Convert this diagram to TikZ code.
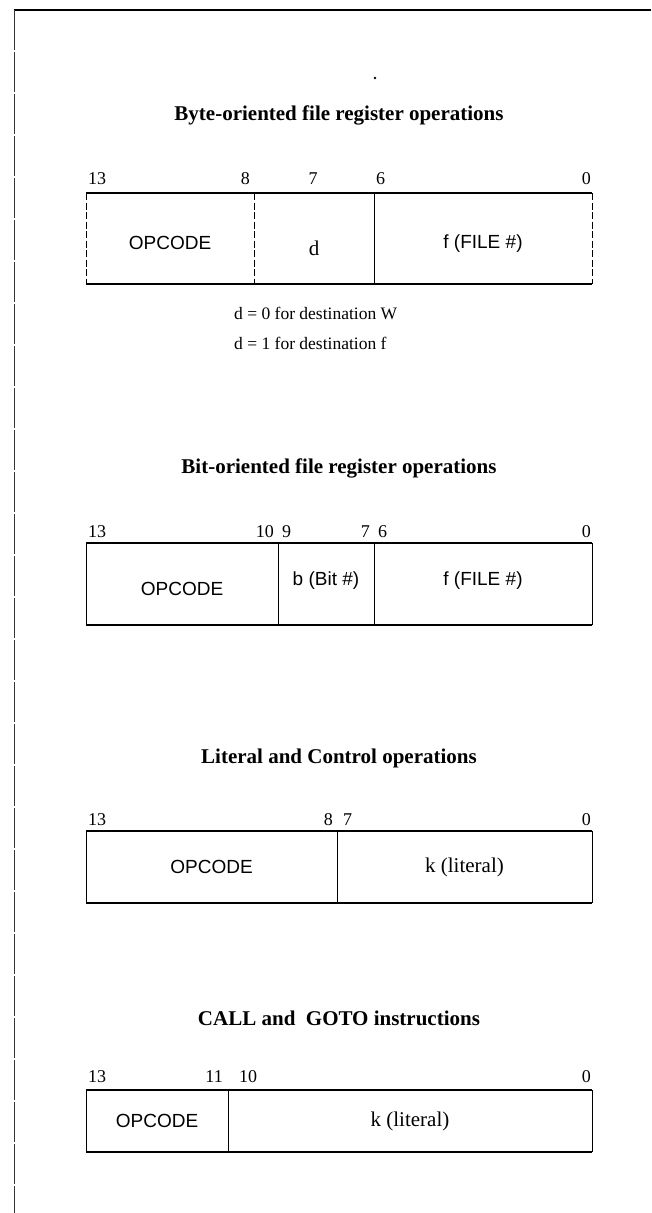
\documentclass[tikz,border=0pt]{standalone}
\usepackage{fontspec}
\setmainfont{Liberation Serif}
\newfontfamily\sansfam{Liberation Sans}
\tikzset{
 fieldbox/.style={inner sep=0pt, outer sep=0pt, anchor=north west},
 sanstext/.style={font=\sansfam\fontsize{19}{22}\selectfont},
 seriftext/.style={font=\fontsize{21}{24}\selectfont},
 titletext/.style={font=\bfseries\fontsize{21}{25}\selectfont, inner sep=0pt},
 bitlabel/.style={font=\fontsize{18}{20}\selectfont, inner sep=0pt},
 notetext/.style={font=\fontsize{17.5}{20}\selectfont, inner sep=0pt, anchor=base west},
 hedge/.style={line width=1.6pt},
 vedge/.style={line width=0.9pt},
 dvedge/.style={line width=0.9pt, dash pattern=on 7pt off 2.5pt},
 frameline/.style={line width=1.6pt},
 leftline/.style={line width=0.8pt, black!80, dash pattern=on 40pt off 2pt},
}
\newcommand{\lowered}[2]{\raisebox{#1}[0pt][0pt]{#2}}
\begin{document}
\begin{tikzpicture}[x=1pt,y=-1pt]
\useasboundingbox (0,0) rectangle (651,1213);
\fill[white] (0,0) rectangle (651,1213);
% outer frame
\coordinate (fbl) at (14,1213);
\coordinate (ftl) at (14,10);
\coordinate (ftr) at (651,10);
\draw[frameline] (ftl) -- (ftr);
\draw[leftline] (ftl) -- (fbl);
\fill (375,78) circle (1.3pt);

% ---------- Section 1 ----------
\node[titletext] (t1) at (339,115) {Byte-oriented file register operations};
\node[fieldbox, minimum width=168pt, minimum height=91pt, sanstext] (b1op) at (86,193) {\lowered{-11pt}{OPCODE}};
\node[fieldbox, minimum width=120pt, minimum height=91pt, seriftext] (b1d) at (b1op.north east) {\lowered{-17pt}{d}};
\node[fieldbox, minimum width=218pt, minimum height=91pt, sanstext] (b1f) at (b1d.north east) {\lowered{-10pt}{f (FILE \#)}};
\draw[hedge] (b1op.north west) -- (b1f.north east);
\draw[hedge] (b1op.south west) -- (b1f.south east);
\draw[dvedge] (b1op.north west) -- (b1op.south west);
\draw[dvedge] (b1d.north west) -- (b1d.south west);
\draw[vedge] (b1f.north west) -- (b1f.south west);
\draw[dvedge] (b1f.north east) -- (b1f.south east);
\node[bitlabel, anchor=base west] (l1a) at ([xshift=2pt,yshift=9pt]b1op.north west) {13};
\node[bitlabel, anchor=base east] (l1b) at ([xshift=-4pt,yshift=9pt]b1op.north east) {8};
\node[bitlabel, anchor=base] (l1c) at ([xshift=-1pt,yshift=9pt]b1d.north) {7};
\node[bitlabel, anchor=base west] (l1d) at ([xshift=2pt,yshift=9pt]b1d.north east) {6};
\node[bitlabel, anchor=base east] (l1e) at ([xshift=-1pt,yshift=9pt]b1f.north east) {0};
\node[notetext] (n1) at (234,319) {d = 0 for destination W};
\node[notetext] (n2) at (234,349) {d = 1 for destination f};

% ---------- Section 2 ----------
\node[titletext] (t2) at (339,468) {Bit-oriented file register operations};
\node[fieldbox, minimum width=192pt, minimum height=82pt, sanstext] (b2op) at (86,543) {\lowered{-11pt}{OPCODE}};
\node[fieldbox, minimum width=96pt, minimum height=82pt, sanstext] (b2b) at (b2op.north east) {\lowered{-1pt}{b (Bit \#)}};
\node[fieldbox, minimum width=218pt, minimum height=82pt, sanstext] (b2f) at (b2b.north east) {\lowered{-1pt}{f (FILE \#)}};
\draw[hedge] (b2op.north west) -- (b2f.north east);
\draw[hedge] (b2op.south west) -- (b2f.south east);
\draw[vedge] (b2op.north west) -- (b2op.south west);
\draw[vedge] (b2b.north west) -- (b2b.south west);
\draw[vedge] (b2f.north west) -- (b2f.south west);
\draw[vedge] (b2f.north east) -- (b2f.south east);
\node[bitlabel, anchor=base west] (l2a) at ([xshift=2pt,yshift=6pt]b2op.north west) {13};
\node[bitlabel, anchor=base east] (l2b) at ([xshift=-4pt,yshift=6pt]b2op.north east) {10};
\node[bitlabel, anchor=base west] (l2c) at ([xshift=4pt,yshift=6pt]b2b.north west) {9};
\node[bitlabel, anchor=base east] (l2d) at ([xshift=-4pt,yshift=6pt]b2b.north east) {7};
\node[bitlabel, anchor=base west] (l2e) at ([xshift=4pt,yshift=6pt]b2f.north west) {6};
\node[bitlabel, anchor=base east] (l2f) at ([xshift=-1pt,yshift=6pt]b2f.north east) {0};

% ---------- Section 3 ----------
\node[titletext] (t3) at (339,758) {Literal and Control operations};
\node[fieldbox, minimum width=251pt, minimum height=72pt, sanstext] (b3op) at (86,831) {OPCODE};
\node[fieldbox, minimum width=255pt, minimum height=72pt, seriftext] (b3k) at (b3op.north east) {k (literal)};
\draw[hedge] (b3op.north west) -- (b3k.north east);
\draw[hedge] (b3op.south west) -- (b3k.south east);
\draw[vedge] (b3op.north west) -- (b3op.south west);
\draw[vedge] (b3k.north west) -- (b3k.south west);
\draw[vedge] (b3k.north east) -- (b3k.south east);
\node[bitlabel, anchor=base west] (l3a) at ([xshift=2pt,yshift=6pt]b3op.north west) {13};
\node[bitlabel, anchor=base east] (l3b) at ([xshift=-4pt,yshift=6pt]b3op.north east) {8};
\node[bitlabel, anchor=base west] (l3c) at ([xshift=6pt,yshift=6pt]b3k.north west) {7};
\node[bitlabel, anchor=base east] (l3d) at ([xshift=-1pt,yshift=6pt]b3k.north east) {0};

% ---------- Section 4 ----------
\node[titletext] (t4) at (339,1018) {CALL and\ \ GOTO instructions};
\node[fieldbox, minimum width=142pt, minimum height=62pt, sanstext] (b4op) at (86,1090) {OPCODE};
\node[fieldbox, minimum width=364pt, minimum height=62pt, seriftext] (b4k) at (b4op.north east) {k (literal)};
\draw[hedge] (b4op.north west) -- (b4k.north east);
\draw[hedge] (b4op.south west) -- (b4k.south east);
\draw[vedge] (b4op.north west) -- (b4op.south west);
\draw[vedge] (b4k.north west) -- (b4k.south west);
\draw[vedge] (b4k.north east) -- (b4k.south east);
\node[bitlabel, anchor=base west] (l4a) at ([xshift=2pt,yshift=8pt]b4op.north west) {13};
\node[bitlabel, anchor=base east] (l4b) at ([xshift=-5pt,yshift=8pt]b4op.north east) {11};
\node[bitlabel, anchor=base west] (l4c) at ([xshift=11pt,yshift=8pt]b4k.north west) {10};
\node[bitlabel, anchor=base east] (l4d) at ([xshift=-1pt,yshift=8pt]b4k.north east) {0};
\end{tikzpicture}
\end{document}
